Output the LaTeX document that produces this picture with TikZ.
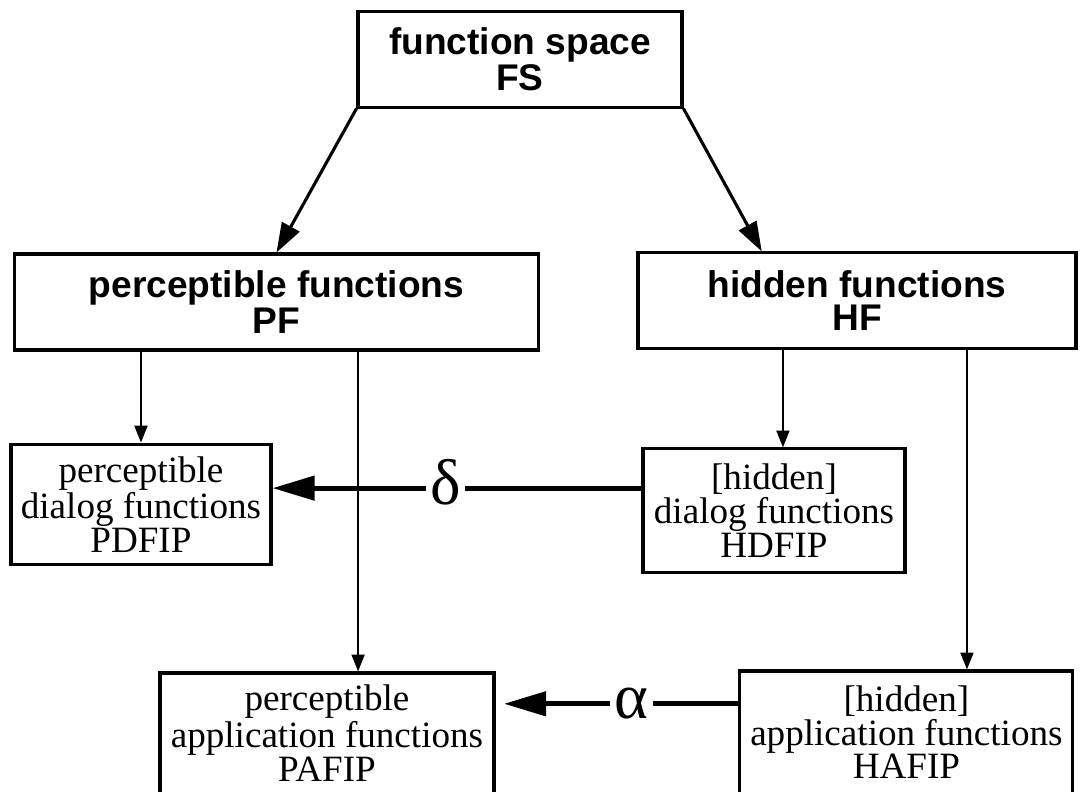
\documentclass[tikz,border=0pt]{standalone}
\usepackage{fontspec}
\setmainfont{Liberation Serif}
\newfontfamily\headfont{Liberation Sans}
\usepackage{tikz}
\usetikzlibrary{arrows.meta}

\begin{document}
\begin{tikzpicture}[
  font=\fontsize{13.2}{12}\selectfont,
  headbox/.style={draw, line width=1.1pt, align=center, inner sep=2pt,
              font=\headfont\bfseries\fontsize{13.2}{11.8}\selectfont},
  leafbox/.style={draw, line width=1.1pt, align=center, inner sep=2pt},
  greek/.style={fill=white, inner sep=1.5pt, font=\fontsize{23}{23}\selectfont},
  arr/.style={-{Triangle[length=6pt, width=4.6pt]}, line width=0.75pt},
  diagarr/.style={-{Triangle[length=10.5pt, width=7pt]}, line width=1.1pt},
  maparr/.style={-{Triangle[length=15pt, width=8.5pt]}, line width=1.8pt}
]
\clip (0,0) rectangle (13.5,9.8875);

\node[headbox, minimum width=4.05cm, minimum height=1.19cm] (fs) at (6.5,9.144)
  {function space\\FS};

\node[headbox, minimum width=6.56cm, minimum height=1.2cm] (pf) at (3.456,6.112)
  {perceptible functions\\PF};

\node[headbox, minimum width=5.475cm, minimum height=1.19cm] (hf) at (10.712,6.131)
  {hidden functions\\HF};

\node[leafbox, minimum width=3.25cm, minimum height=1.51cm] (pdfip) at (1.762,3.581)
  {perceptible\\dialog functions\\PDFIP};

\node[leafbox, minimum width=3.275cm, minimum height=1.54cm] (hdfip) at (9.675,3.506)
  {{[hidden]}\\dialog functions\\HDFIP};

\node[leafbox, minimum width=4.175cm, minimum height=1.51cm] (pafip) at (4.087,0.72)
  {perceptible\\application functions\\PAFIP};

\node[leafbox, minimum width=4.162cm, minimum height=1.53cm] (hafip) at (11.33,0.735)
  {{[hidden]}\\application functions\\HAFIP};

\coordinate (pfa) at ([xshift=1.02cm]pf.south);
\coordinate (hfd) at ([xshift=-0.925cm]hf.south);
\coordinate (hfa) at ([xshift=1.375cm]hf.south);
\coordinate (hfn) at ([xshift=-1.19cm]hf.north);
\coordinate (dstart) at ([yshift=0.28cm]hdfip.west);
\coordinate (astart) at ([yshift=0.355cm]hafip.west);

\draw[diagarr] (fs.south west) -- (pf.north);
\draw[diagarr] (fs.south east) -- (hfn);

\draw[arr] (pdfip.north |- pf.south) -- (pdfip.north);
\draw[arr] (pfa) -- (pfa |- pafip.north);
\draw[arr] (hfd) -- (hfd |- hdfip.north);
\draw[arr] (hfa) -- (hfa |- hafip.north);

\draw[maparr] (dstart) -- (dstart -| pdfip.east) node[greek, pos=0.53, yshift=2pt] {δ};
\draw[maparr, shorten >=3pt] (astart) -- (astart -| pafip.east) node[greek, pos=0.44] {α};

\end{tikzpicture}
\end{document}
